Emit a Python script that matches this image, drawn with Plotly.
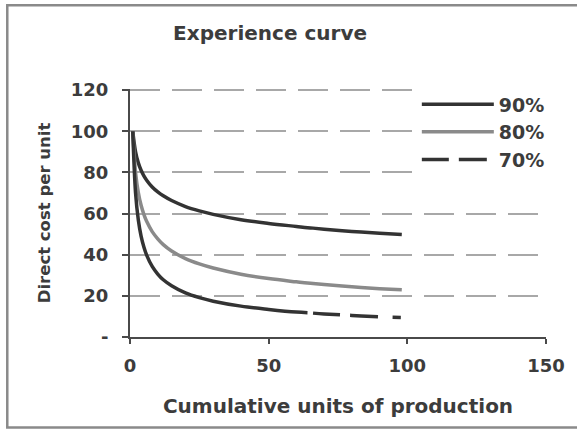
import plotly.graph_objects as go

units = [1, 2, 3, 4, 5, 6, 8, 10, 12, 15, 20, 25, 30, 40, 50, 60, 64, 66, 70, 80, 90, 98]
cost_90 = [100, 90, 84.6, 81, 78.3, 76.2, 72.9, 70.5, 68.6, 66.3, 63.4, 61.3, 59.6, 57.0, 55.2, 53.7, 53.1, 52.9, 52.4, 51.3, 50.4, 49.8]
cost_80 = [100, 80, 70.2, 64, 59.6, 56.2, 51.2, 47.7, 44.9, 41.8, 38.1, 35.5, 33.5, 30.5, 28.4, 26.8, 26.2, 26.0, 25.5, 24.4, 23.5, 22.9]
cost_70 = [100, 70, 56.8, 49, 43.7, 39.8, 34.3, 30.6, 27.8, 24.9, 21.4, 19.1, 17.4, 15.0, 13.4, 12.1, 11.8, 11.6, 11.2, 10.5, 9.8, 9.5]

y_tickvals = [0, 20, 40, 60, 80, 100, 120]
y_ticktext = ["-", "20", "40", "60", "80", "100", "120"]
x_tickvals = [0, 50, 100, 150]

TXT = "#3c3c3c"
FONT = "DejaVu Sans"
AX = "#4a4a4a"

# 70% line reads solid on the steep part and dashed on the flat tail
split_solid = units.index(64) + 1
split_dash = units.index(66)

fig = go.Figure()
fig.add_trace(go.Scatter(x=units, y=cost_90, mode="lines", name="90%",
                         line=dict(color="#333333", width=3.5, shape="spline")))
fig.add_trace(go.Scatter(x=units, y=cost_80, mode="lines", name="80%",
                         line=dict(color="#8a8a8a", width=3.5, shape="spline")))
fig.add_trace(go.Scatter(x=units[:split_solid], y=cost_70[:split_solid], mode="lines",
                         name="70%", showlegend=False, legendgroup="70",
                         line=dict(color="#333333", width=3.5, shape="spline")))
fig.add_trace(go.Scatter(x=units[split_dash:], y=cost_70[split_dash:], mode="lines",
                         name="70%", legendgroup="70",
                         line=dict(color="#333333", width=3.5, dash="27px,10px,28px,15px,8px,20px",
                                   shape="spline")))

fig.update_layout(
    width=577, height=429,
    margin=dict(l=130, r=27, t=89, b=92),
    paper_bgcolor="white", plot_bgcolor="white",
    font=dict(family=FONT, color=TXT),
    title=dict(text="Experience curve", x=0.468, xanchor="center",
               y=0.923, yanchor="middle",
               font=dict(size=20, color=TXT, family=FONT, weight="bold")),
    showlegend=True,
    legend=dict(x=0.6895, y=1.015, xanchor="left", yanchor="top",
                bgcolor="white", font=dict(size=19, color=TXT, family=FONT, weight="bold"),
                itemwidth=72, tracegroupgap=0),
    xaxis=dict(range=[0, 150], tickvals=x_tickvals, showgrid=False, zeroline=False,
               showline=True, linecolor=AX, linewidth=2,
               ticks="outside", ticklen=5, tickcolor=AX, tickwidth=2,
               ticklabelstandoff=6,
               tickfont=dict(size=18, color=TXT, family=FONT, weight="bold"),
               title=dict(text="Cumulative units of production", standoff=24,
                          font=dict(size=20, color=TXT, family=FONT, weight="bold"))),
    yaxis=dict(range=[0, 120.5], tickvals=y_tickvals, ticktext=y_ticktext,
               showgrid=True, gridcolor="#a8a8a8", gridwidth=1.5, griddash="30px,12px",
               zeroline=False, showline=True, linecolor=AX, linewidth=2,
               ticks="outside", ticklen=6, tickcolor=AX, tickwidth=2,
               ticklabelstandoff=10,
               tickfont=dict(size=18, color=TXT, family=FONT, weight="bold"),
               title=dict(text="Direct cost per unit", standoff=16,
                          font=dict(size=16.5, color=TXT, family=FONT, weight="bold"))),
)

fig.add_shape(type="rect", xref="paper", yref="paper",
              x0=-0.295, x1=1.09, y0=-0.365, y1=1.338,
              line=dict(color="#8a8a8a", width=2.5), fillcolor="rgba(0,0,0,0)", layer="above")

fig.write_html("out.html", config={"displayModeBar": False},
               post_script="document.body.style.margin='0';")
